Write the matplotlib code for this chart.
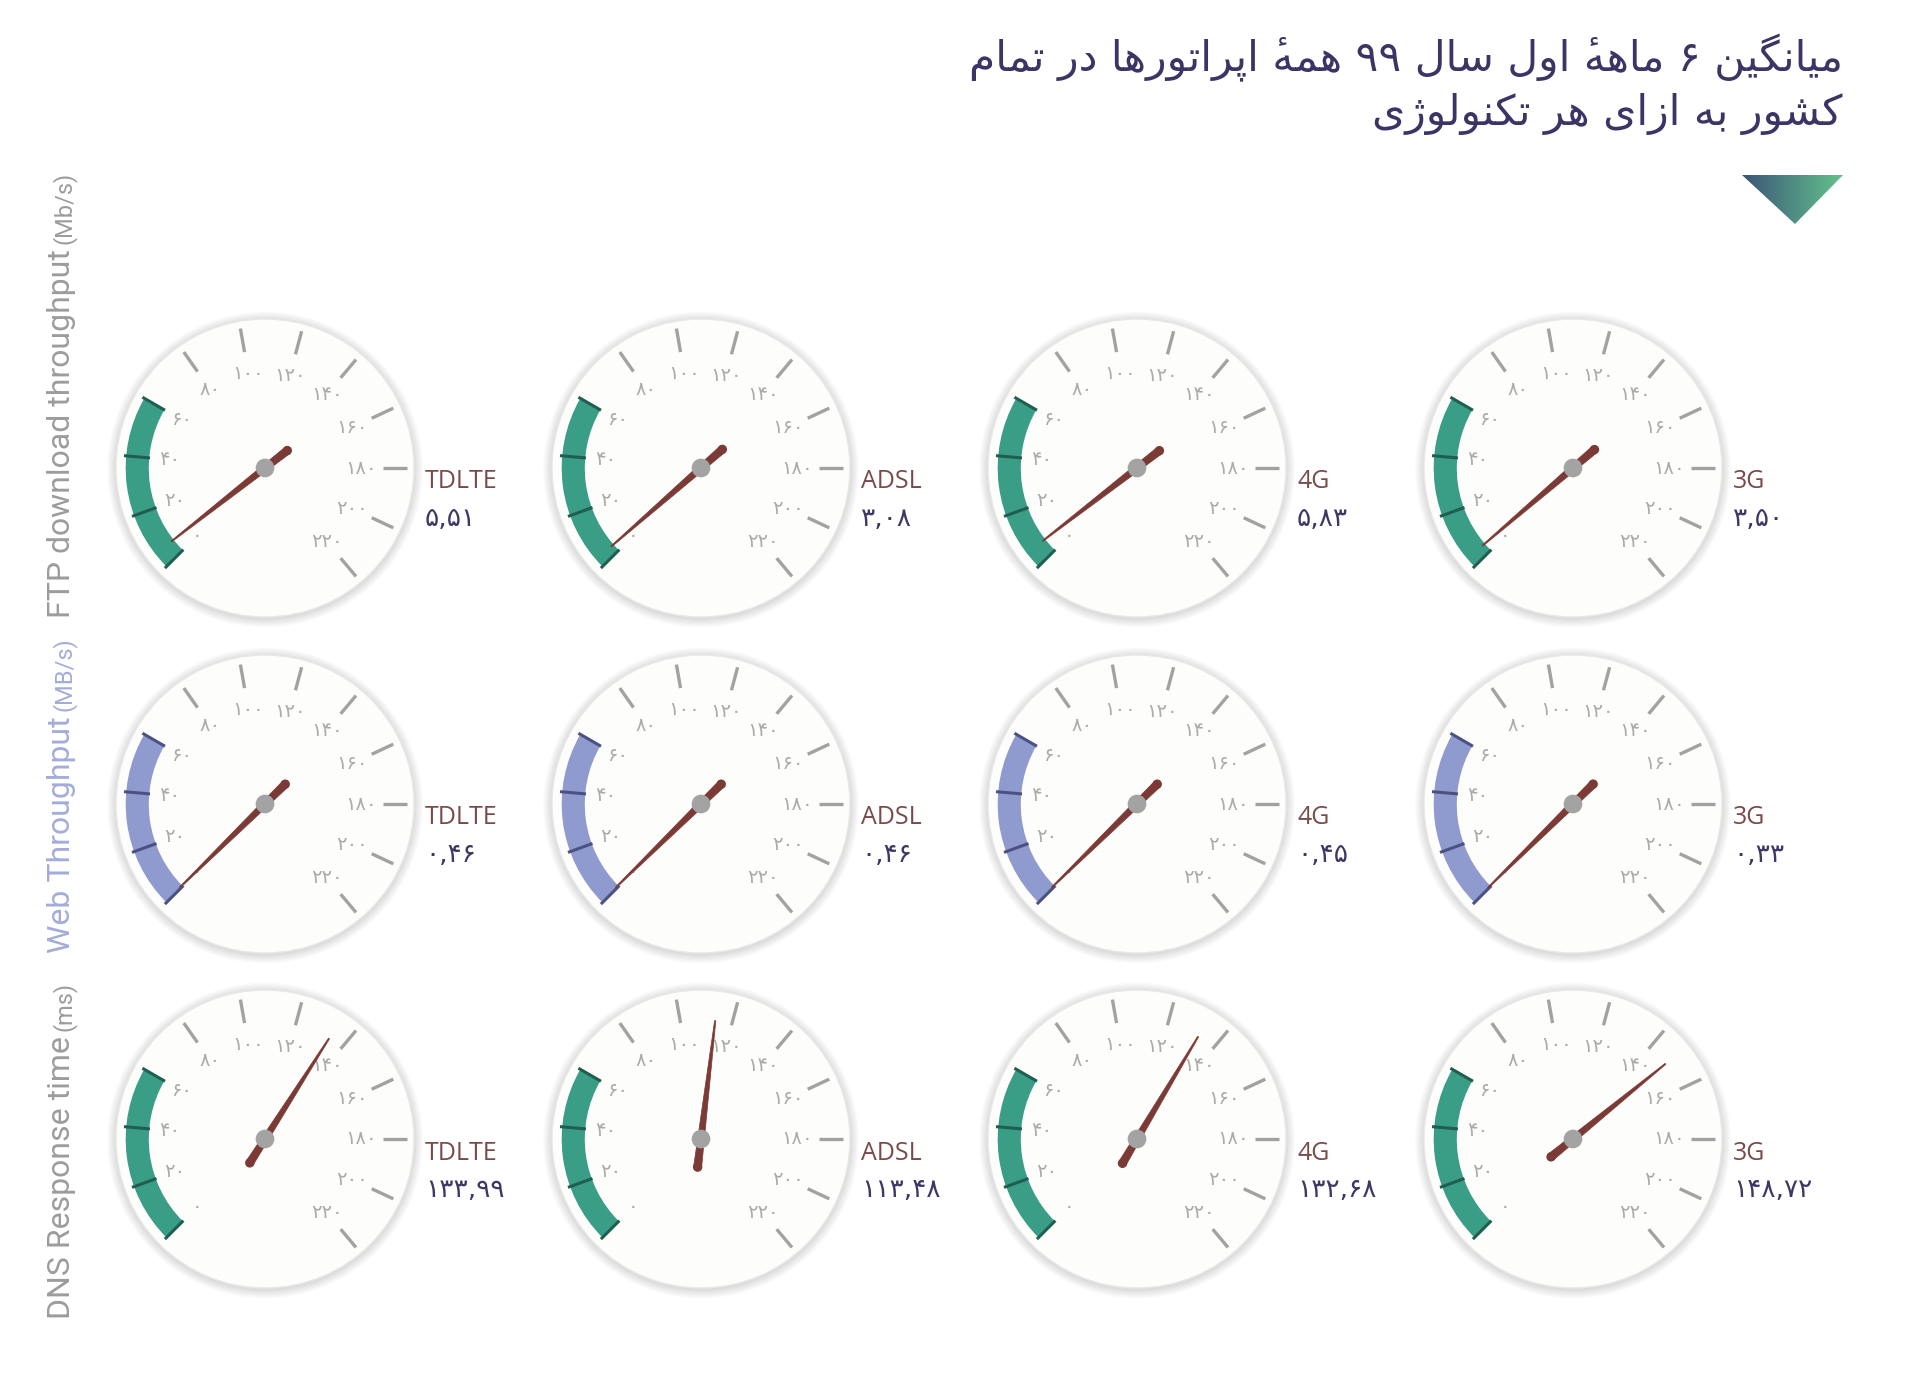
import re
import numpy as np
import matplotlib
matplotlib.use('Agg')
import matplotlib.pyplot as plt
from matplotlib.patches import Circle, Wedge, Polygon

# ----------------------------
#  Datos
# ----------------------------
tecnologias = ['TDLTE', 'ADSL', '4G', '3G']
ftp_vals = [5.51, 3.08, 5.83, 3.50]
web_vals = [0.46, 0.46, 0.45, 0.33]
dns_vals = [133.99, 113.48, 132.68, 148.72]
metricas = ['FTP download throughput', 'Web Throughput', 'DNS Response time']
unidades = ['(Mb/s)', '(MB/s)', '(ms)']
escala = list(range(0, 240, 20))   # etiquetas del cuadrante 0..220
banda = (0, 60)                    # zona coloreada
titulo = ['میانگین ۶ ماههٔ اول سال ۹۹ همهٔ اپراتورها در تمام',
          'کشور به ازای هر تکنولوژی']

filas = [ftp_vals, web_vals, dns_vals]
colores_banda = ['#3a9d86', '#8f9acf', '#3a9d86']
colores_tick_banda = ['#1f5e50', '#4b5283', '#1f5e50']
colores_metrica = ['#9c9c9c', '#a4acd9', '#9c9c9c']

W, H = 1920, 1380
VMAX = 240.0
A0, BARRIDO = 225.0, 300.0

digitos_fa = str.maketrans('0123456789', '۰۱۲۳۴۵۶۷۸۹')

# ---------------------------------------------------
#  Formas de presentación (iso, fin, ini, med)
# ---------------------------------------------------
FORMAS = {
    'ا': ('\uFE8D', '\uFE8E', None, None),
    'ب': ('\uFE8F', '\uFE90', '\uFE91', '\uFE92'),
    'پ': ('\uFB56', '\uFB57', '\uFB58', '\uFB59'),
    'ت': ('\uFE95', '\uFE96', '\uFE97', '\uFE98'),
    'د': ('\uFEA9', '\uFEAA', None, None),
    'ر': ('\uFEAD', '\uFEAE', None, None),
    'ز': ('\uFEAF', '\uFEB0', None, None),
    'ژ': ('\uFB8A', '\uFB8B', None, None),
    'س': ('\uFEB1', '\uFEB2', '\uFEB3', '\uFEB4'),
    'ش': ('\uFEB5', '\uFEB6', '\uFEB7', '\uFEB8'),
    'ک': ('\uFB8E', '\uFB8F', '\uFB90', '\uFB91'),
    'گ': ('\uFB92', '\uFB93', '\uFB94', '\uFB95'),
    'ل': ('\uFEDD', '\uFEDE', '\uFEDF', '\uFEE0'),
    'م': ('\uFEE1', '\uFEE2', '\uFEE3', '\uFEE4'),
    'ن': ('\uFEE5', '\uFEE6', '\uFEE7', '\uFEE8'),
    'ه': ('\uFEE9', '\uFEEA', '\uFEEB', '\uFEEC'),
    'و': ('\uFEED', '\uFEEE', None, None),
    'ی': ('\uFBFC', '\uFBFD', '\uFBFE', '\uFBFF'),
}
MARCAS = '\u0654'


def dual(c):
    return c in FORMAS and FORMAS[c][2] is not None


def dar_forma(texto):
    """Une las letras y ordena de derecha a izquierda para matplotlib."""
    # grupos: letra base + marcas
    grupos = []
    for c in texto:
        if c in MARCAS and grupos:
            grupos[-1][1] += c
        else:
            grupos.append([c, ''])
    bases = [g[0] for g in grupos]
    out = []
    for i, (c, marca) in enumerate(grupos):
        if c in FORMAS:
            prev = bases[i - 1] if i > 0 else ''
            nxt = bases[i + 1] if i + 1 < len(bases) else ''
            une_prev = dual(prev)
            une_next = dual(c) and nxt in FORMAS
            iso, fin, ini, med = FORMAS[c]
            if une_prev and une_next:
                c = med
            elif une_prev:
                c = fin
            elif une_next:
                c = ini
            else:
                c = iso
        # la marca va antes de su letra en orden visual
        out.append(marca + c)
    vis = ''.join(out[::-1])
    return re.sub('[۰-۹]+', lambda m: m.group(0)[::-1], vis)


def a_persa(v, dec=None):
    s = f"{v:.{dec}f}".replace('.', ',') if dec is not None else str(v)
    return s.translate(digitos_fa)


def angulo(v):
    return A0 - BARRIDO * v / VMAX


# ---------------------------------------------------
#  Dibujo de un cuadrante
# ---------------------------------------------------
def dibujar_cuadrante(ax, cx, cy, R, valor, nombre, col_banda, col_tick):
    # sombra
    for k in range(7):
        ax.add_patch(Circle((cx, cy - 1.5), R + 1 + k * 1.3, color='#000000',
                            alpha=0.02, lw=0, zorder=1))
    ax.add_patch(Circle((cx, cy), R, facecolor='#fdfdfb', edgecolor='#e8e8e8',
                        lw=1.0, zorder=2))

    # banda coloreada
    t1, t2 = angulo(banda[1]), angulo(banda[0])
    ax.add_patch(Wedge((cx, cy), 0.935 * R, t1, t2, width=0.155 * R,
                       facecolor=col_banda, edgecolor='none', zorder=3))

    # marcas y etiquetas
    for v in escala:
        a = np.deg2rad(angulo(v))
        ca, sa = np.cos(a), np.sin(a)
        if banda[0] <= v <= banda[1]:
            r1, r2, col, lw = 0.775, 0.95, col_tick, 2.2
        else:
            r1, r2, col, lw = 0.79, 0.95, '#a2a2a2', 2.4
        ax.plot([cx + r1 * R * ca, cx + r2 * R * ca],
                [cy + r1 * R * sa, cy + r2 * R * sa],
                color=col, lw=lw, solid_capstyle='butt', zorder=4)
        rl = 0.645
        ax.text(cx + rl * R * ca, cy + rl * R * sa, a_persa(v),
                fontsize=14, color='#ababab', ha='center', va='center',
                family='DejaVu Sans', zorder=4)

    # aguja
    a = np.deg2rad(angulo(valor))
    ux, uy = np.cos(a), np.sin(a)
    px, py = -uy, ux
    L, C = 0.80 * R, 0.19 * R
    w0, w1 = 4.0, 0.6
    pts = [(cx - C * ux + w0 * px, cy - C * uy + w0 * py),
           (cx + L * ux + w1 * px, cy + L * uy + w1 * py),
           (cx + L * ux - w1 * px, cy + L * uy - w1 * py),
           (cx - C * ux - w0 * px, cy - C * uy - w0 * py)]
    ax.add_patch(Polygon(pts, closed=True, facecolor='#7b3a35',
                         edgecolor='#7b3a35', lw=0.5, zorder=6))
    ax.add_patch(Circle((cx - C * ux, cy - C * uy), w0, color='#7b3a35', zorder=6))
    ax.add_patch(Circle((cx, cy), 0.058 * R, color='#a3a3a3', zorder=7))

    # nombre y valor
    ax.text(cx + 160, cy - 14, nombre, fontsize=18, color='#7a4a4a',
            family='Open Sans', ha='left', va='center', zorder=5)
    ax.text(cx + 160, cy - 51, a_persa(valor, 2), fontsize=19, color='#3e3766',
            family='DejaVu Sans', ha='left', va='center', zorder=5)


# ---------------------------------------------------
#  Figura
# ---------------------------------------------------
fig = plt.figure(figsize=(W / 100, H / 100), dpi=100)
ax = fig.add_axes([0, 0, 1, 1])
ax.set_xlim(0, W)
ax.set_ylim(0, H)
ax.axis('off')

xs = [265, 701, 1137, 1573]
ys = [H - 468, H - 804, H - 1139]
R = 149

for i, vals in enumerate(filas):
    for j, v in enumerate(vals):
        dibujar_cuadrante(ax, xs[j], ys[i], R, v, tecnologias[j],
                          colores_banda[i], colores_tick_banda[i])

# etiquetas de métricas (verticales)
y_base = [618, 953, 1319]
for i in range(3):
    t = ax.text(76, H - y_base[i], metricas[i], rotation=90, fontsize=23,
                color=colores_metrica[i], family='Roboto',
                ha='right', va='bottom')
    ax.annotate(unidades[i], xy=(1.0, 1.0), xycoords=t, xytext=(0, 4),
                textcoords='offset points', rotation=90, fontsize=17,
                color=colores_metrica[i], family='Roboto',
                ha='right', va='bottom')

# título
ax.text(1843, H - 58, dar_forma(titulo[0]), fontsize=30.5, color='#3d3466',
        family='DejaVu Sans', ha='right', va='center')
ax.text(1843, H - 114, dar_forma(titulo[1]), fontsize=30.5, color='#3d3466',
        family='DejaVu Sans', ha='right', va='center')

# triángulo con degradado
tri = Polygon([(1742, H - 175), (1843, H - 175), (1795, H - 224)], closed=True,
              facecolor='none', edgecolor='none')
ax.add_patch(tri)
grad = np.linspace(0, 1, 256).reshape(1, -1)
cmap = matplotlib.colors.LinearSegmentedColormap.from_list('g', ['#3c5577', '#63c28d'])
im = ax.imshow(grad, extent=(1742, 1843, H - 224, H - 175), cmap=cmap,
               aspect='auto', zorder=3)
im.set_clip_path(tri)
ax.set_xlim(0, W)
ax.set_ylim(0, H)

fig.savefig('out.png', dpi=100, facecolor='white')
